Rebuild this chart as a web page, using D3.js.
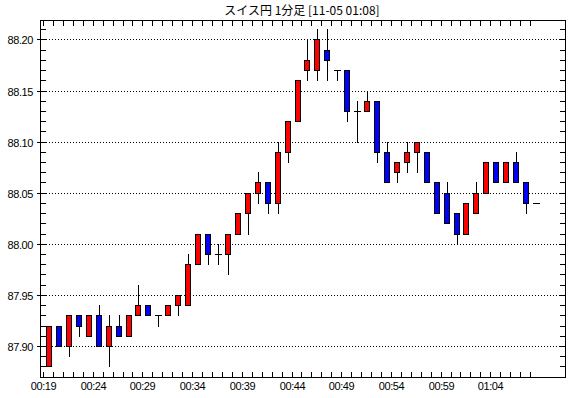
<!DOCTYPE html>
<html><head><meta charset="utf-8">
<script src="https://cdn.jsdelivr.net/npm/d3@7"></script>
<style>
html,body{margin:0;padding:0;background:#fff;}
svg{display:block;}
text{font-family:"Liberation Sans",Arial,sans-serif;}
</style></head>
<body>
<script>
const title = "スイス円 1分足 [11-05 01:08]";
const times = ["00:19","00:20","00:21","00:22","00:23","00:24","00:25","00:26","00:27","00:28",
"00:29","00:30","00:31","00:32","00:33","00:34","00:35","00:36","00:37","00:38",
"00:39","00:40","00:41","00:42","00:43","00:44","00:45","00:46","00:47","00:48",
"00:49","00:50","00:51","00:52","00:53","00:54","00:55","00:56","00:57","00:58",
"00:59","01:00","01:01","01:02","01:03","01:04","01:05","01:06","01:07","01:08"];
const open  = [87.88,87.92,87.90,87.93,87.91,87.93,87.90,87.92,87.91,87.93,
87.94,87.93,87.93,87.94,87.94,87.98,88.01,87.99,87.99,88.01,
88.03,88.05,88.06,88.04,88.09,88.12,88.17,88.17,88.19,88.17,
88.17,88.13,88.13,88.14,88.09,88.07,88.08,88.09,88.09,88.06,
88.05,88.03,88.01,88.03,88.05,88.08,88.06,88.08,88.06,88.04];
const high  = [87.92,87.92,87.93,87.93,87.93,87.94,87.93,87.93,87.93,87.96,
87.94,87.93,87.94,87.95,87.99,88.01,88.01,88.00,88.01,88.03,
88.05,88.07,88.06,88.10,88.12,88.16,88.20,88.21,88.21,88.17,
88.17,88.14,88.15,88.14,88.10,88.08,88.10,88.10,88.09,88.06,
88.06,88.03,88.04,88.06,88.08,88.08,88.08,88.09,88.06,88.04];
const low   = [87.88,87.90,87.89,87.91,87.91,87.90,87.88,87.91,87.91,87.93,
87.93,87.92,87.93,87.93,87.94,87.98,87.98,87.98,87.97,88.01,
88.01,88.04,88.03,88.03,88.08,88.12,88.16,88.16,88.16,88.16,
88.12,88.10,88.13,88.08,88.06,88.06,88.07,88.07,88.06,88.03,
88.02,88.00,88.01,88.03,88.05,88.06,88.06,88.06,88.03,88.04];
const close = [87.92,87.90,87.93,87.92,87.93,87.90,87.92,87.91,87.93,87.94,
87.93,87.93,87.94,87.95,87.98,88.01,87.99,87.99,88.01,88.03,
88.05,88.06,88.04,88.09,88.12,88.16,88.18,88.20,88.18,88.17,
88.13,88.13,88.14,88.09,88.06,88.08,88.09,88.10,88.06,88.03,
88.02,88.01,88.04,88.05,88.08,88.06,88.08,88.06,88.04,88.04];
const yTickLabels = [87.90,87.95,88.00,88.05,88.10,88.15,88.20];
const yMinor = [87.88,87.89,87.90,87.91,87.92,87.93,87.94,87.95,87.96,87.97,87.98,87.99,88.00,
88.01,88.02,88.03,88.04,88.05,88.06,88.07,88.08,88.09,88.10,88.11,88.12,88.13,88.14,88.15,
88.16,88.17,88.18,88.19,88.20,88.21];
const xLabelEvery = 5;

const W = 570, H = 398;
const L = 40, R = 565, T = 20, B = 377;
const svg = d3.select("body").append("svg").attr("width", W).attr("height", H);

const y = d3.scaleLinear().domain([87.8696, 88.2190]).range([B, T]);
const step = 9.94;
const x = d3.scaleBand().domain(d3.range(times.length)).range([43, 43 + step * times.length]).padding(0);

svg.append("text").attr("x", 302).attr("y", 15).attr("text-anchor", "middle")
  .style("font-family", "'Noto Sans CJK JP',sans-serif").style("font-size", "12px").text(title);

// grid
const grid = svg.append("g");
yTickLabels.forEach(v => {
  const yy = Math.round(y(v)) + 0.5;
  grid.append("line").attr("x1", L).attr("x2", R).attr("y1", yy).attr("y2", yy)
    .attr("stroke", "#000").attr("stroke-dasharray", "1,2");
});

// frame
svg.append("rect").attr("x", L + 0.5).attr("y", T + 0.5).attr("width", R - L).attr("height", B - T)
  .attr("fill", "none").attr("stroke", "#000");

const g = svg.append("g");
// minor ticks left (inward) & right (inward)
yMinor.forEach(v => {
  const yy = Math.round(y(v)) + 0.5;
  g.append("line").attr("x1", L).attr("x2", L + 6).attr("y1", yy).attr("y2", yy).attr("stroke", "#000");
  g.append("line").attr("x1", R - 5).attr("x2", R + 1).attr("y1", yy).attr("y2", yy).attr("stroke", "#000");
});
// major ticks outward + labels
yTickLabels.forEach(v => {
  const yy = Math.round(y(v)) + 0.5;
  g.append("line").attr("x1", L - 3).attr("x2", L).attr("y1", yy).attr("y2", yy).attr("stroke", "#000");
  g.append("text").attr("x", 33).attr("y", yy + 4).attr("text-anchor", "end")
    .style("font-size", "11px").style("letter-spacing", "-0.4px").text(d3.format(".2f")(v));
});
// x ticks top & bottom inward
times.forEach((t, i) => {
  const xx = Math.round(x(i)) + 0.5;
  g.append("line").attr("x1", xx).attr("x2", xx).attr("y1", T).attr("y2", T + 6).attr("stroke", "#000");
  g.append("line").attr("x1", xx).attr("x2", xx).attr("y1", B - 5).attr("y2", B + 1).attr("stroke", "#000");
  if (i % xLabelEvery === 0) {
    g.append("text").attr("x", xx).attr("y", 389.5).attr("text-anchor", "middle")
      .style("font-size", "11px").style("letter-spacing", "-0.4px").text(t);
  }
});

// candles
const c = svg.append("g");
times.forEach((t, i) => {
  const X = Math.round(x(i)) + 3;
  const cx = X + 3.5;
  const o = open[i], cl = close[i];
  const yH = Math.round(y(high[i])), yL = Math.round(y(low[i]));
  const yTop = Math.round(y(Math.max(o, cl))), yBot = Math.round(y(Math.min(o, cl)));
  c.append("line").attr("x1", cx).attr("x2", cx).attr("y1", yH).attr("y2", yL + 1).attr("stroke", "#000");
  if (o === cl) {
    c.append("line").attr("x1", X).attr("x2", X + 7).attr("y1", yTop + 0.5).attr("y2", yTop + 0.5).attr("stroke", "#000");
  } else {
    c.append("rect").attr("x", X + 0.5).attr("y", yTop + 0.5).attr("width", 5).attr("height", yBot - yTop)
      .attr("fill", cl > o ? "#ff0000" : "#0000ff").attr("stroke", "#000");
  }
});
</script>
</body></html>
